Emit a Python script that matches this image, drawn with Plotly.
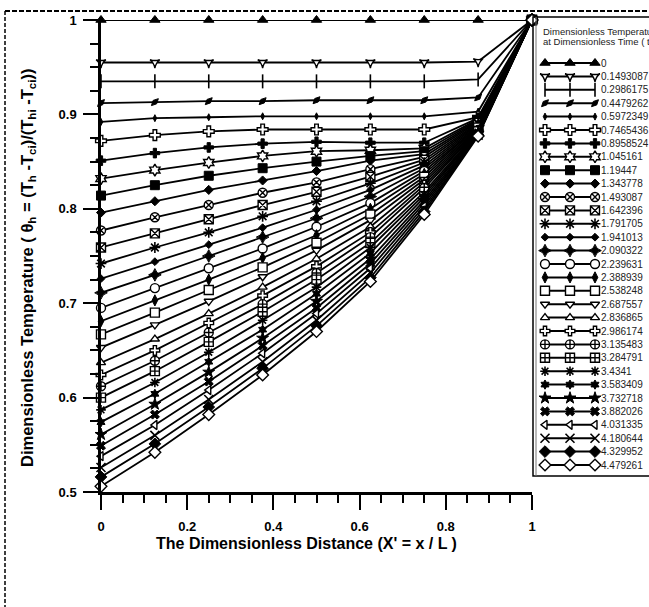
import plotly.graph_objects as go

# Node positions along the slab (X' = x / L)
x_nodes = [0.0, 0.125, 0.25, 0.375, 0.5, 0.625, 0.75, 0.875, 1.0]

# Dimensionless times of the profiles
time_labels = [
    "0", "0.1493087", "0.2986175", "0.4479262", "0.5972349", "0.7465436",
    "0.8958524", "1.045161", "1.19447", "1.343778", "1.493087", "1.642396",
    "1.791705", "1.941013", "2.090322", "2.239631", "2.388939", "2.538248",
    "2.687557", "2.836865", "2.986174", "3.135483", "3.284791", "3.4341",
    "3.583409", "3.732718", "3.882026", "4.031335", "4.180644", "4.329952",
    "4.479261",
]

# Dimensionless temperature at each node, one entry per time (same order as time_labels)
node_000 = [1.0, 0.955, 0.935, 0.912, 0.892, 0.872, 0.851, 0.832, 0.814, 0.796, 0.777,
            0.759, 0.742, 0.726, 0.711, 0.695, 0.681, 0.667, 0.653, 0.637, 0.624,
            0.612, 0.600, 0.587, 0.574, 0.561, 0.549, 0.538, 0.526, 0.516, 0.506]
node_125 = [1.0, 0.955, 0.935, 0.913, 0.896, 0.878, 0.859, 0.841, 0.825, 0.808, 0.791,
            0.774, 0.759, 0.744, 0.730, 0.716, 0.703, 0.690, 0.677, 0.662, 0.650,
            0.639, 0.628, 0.616, 0.604, 0.593, 0.582, 0.571, 0.560, 0.551, 0.542]
node_250 = [1.0, 0.955, 0.935, 0.914, 0.897, 0.882, 0.865, 0.849, 0.835, 0.820, 0.804,
            0.789, 0.775, 0.762, 0.750, 0.737, 0.725, 0.714, 0.702, 0.689, 0.679,
            0.669, 0.659, 0.648, 0.638, 0.627, 0.617, 0.608, 0.598, 0.590, 0.582]
node_375 = [1.0, 0.955, 0.935, 0.914, 0.898, 0.884, 0.869, 0.856, 0.843, 0.830, 0.817,
            0.804, 0.792, 0.780, 0.770, 0.758, 0.748, 0.738, 0.728, 0.717, 0.708,
            0.699, 0.691, 0.682, 0.672, 0.663, 0.655, 0.647, 0.638, 0.631, 0.624]
node_500 = [1.0, 0.955, 0.935, 0.915, 0.898, 0.884, 0.871, 0.861, 0.850, 0.840, 0.828,
            0.818, 0.808, 0.799, 0.790, 0.781, 0.772, 0.764, 0.756, 0.747, 0.739,
            0.732, 0.725, 0.717, 0.710, 0.702, 0.695, 0.689, 0.682, 0.676, 0.670]
node_625 = [1.0, 0.955, 0.935, 0.915, 0.898, 0.884, 0.870, 0.862, 0.856, 0.851, 0.842,
            0.834, 0.827, 0.820, 0.813, 0.806, 0.800, 0.794, 0.788, 0.781, 0.775,
            0.770, 0.764, 0.759, 0.753, 0.747, 0.742, 0.737, 0.732, 0.727, 0.723]
node_750 = [1.0, 0.955, 0.935, 0.915, 0.898, 0.884, 0.870, 0.864, 0.861, 0.858, 0.855,
            0.852, 0.849, 0.846, 0.843, 0.840, 0.837, 0.834, 0.831, 0.828, 0.825,
            0.822, 0.818, 0.815, 0.812, 0.809, 0.806, 0.803, 0.800, 0.797, 0.794]
node_875 = [1.0, 0.956, 0.937, 0.918, 0.903, 0.897, 0.896, 0.895, 0.894, 0.893, 0.892,
            0.891, 0.890, 0.889, 0.888, 0.887, 0.887, 0.886, 0.885, 0.884, 0.883,
            0.883, 0.882, 0.881, 0.881, 0.880, 0.879, 0.879, 0.878, 0.878, 0.877]
node_1000 = [1.0] * 31

node_columns = [node_000, node_125, node_250, node_375, node_500,
                node_625, node_750, node_875, node_1000]

# Marker style per profile: (symbol, fill, size)
marker_styles = [
    ("triangle-up", "k", 9), ("star-triangle-down", "w", 7), ("line-ns", "n", 10),
    ("diamond-wide", "k", 7), ("diamond-tall", "k", 5), ("cross", "w", 9),
    ("cross", "k", 8), ("hexagram", "w", 9), ("square", "k", 9),
    ("diamond", "k", 7), ("circle-x", "w", 9), ("square-x", "w", 9),
    ("asterisk", "n", 9), ("diamond", "k", 6), ("star-diamond", "k", 9),
    ("circle", "w", 9), ("diamond-tall", "k", 8), ("square", "w", 9),
    ("triangle-down", "w", 8), ("triangle-up", "w", 8), ("cross", "w", 8),
    ("circle-cross", "w", 9), ("square-cross", "w", 9), ("asterisk", "n", 8),
    ("hexagram", "k", 7), ("star", "k", 9), ("x", "k", 8),
    ("triangle-left", "w", 8), ("x-thin", "n", 9), ("diamond", "k", 9),
    ("diamond", "w", 9),
]

FONT = "Liberation Sans, Arial, sans-serif"
W, H = 649, 607
PLOT_L, PLOT_R, PLOT_T, PLOT_B = 101, 532, 20, 492
AREA_W = W - PLOT_L
AREA_H = PLOT_B - PLOT_T


def px_x(px):
    return (px - PLOT_L) / AREA_W


def px_y(py):
    return (PLOT_B - py) / AREA_H


def marker_dict(symbol, fill, size):
    if fill == "n":
        return dict(symbol=symbol + "-open", size=size, color="black",
                    line=dict(color="black", width=1.6))
    if fill == "w":
        return dict(symbol=symbol, size=size, color="white",
                    line=dict(color="black", width=1.4))
    m = dict(symbol=symbol, size=size, color="black",
             line=dict(color="black", width=1))
    if symbol == "diamond-wide":
        m["angle"] = -45
    return m


fig = go.Figure()

# Temperature profiles
for i, label in enumerate(time_labels):
    sym, fill, size = marker_styles[i]
    fig.add_trace(go.Scatter(
        x=x_nodes, y=[col[i] for col in node_columns],
        mode="lines+markers", name=label, showlegend=False,
        line=dict(color="black", width=1.8),
        marker=marker_dict(sym, fill, size), cliponaxis=False,
    ))

# Key: line sample with three markers per profile on an auxiliary axis pair
KEY_ROW0, KEY_STEP = 63, 13.4
KEY_X0, KEY_UNIT = 545, 50
for i, label in enumerate(time_labels):
    sym, fill, size = marker_styles[i]
    fig.add_trace(go.Scatter(
        x=[0, 0.5, 1], y=[i, i, i], xaxis="x2", yaxis="y2",
        mode="lines+markers", showlegend=False, hoverinfo="skip",
        line=dict(color="black", width=2),
        marker=marker_dict(sym, fill, size), cliponaxis=False,
    ))
    fig.add_annotation(x=1.08, y=i, xref="x2", yref="y2", text=label,
                       showarrow=False, xanchor="left", yanchor="middle",
                       font=dict(family=FONT, size=10, color="#222"))

for text, row in [("Dimensionless Temperature", -2.35),
                  ("at Dimensionless Time ( t / t<sub>o</sub> )", -1.55)]:
    fig.add_annotation(x=-0.08, y=row, xref="x2", yref="y2", text=text,
                       showarrow=False, xanchor="left", yanchor="middle",
                       font=dict(family=FONT, size=9.5, color="#222"))

# Key frame (double line on the left edge)
fig.add_shape(type="rect", xref="paper", yref="paper",
              x0=px_x(533), x1=px_x(700), y0=px_y(476), y1=px_y(17),
              line=dict(color="black", width=1.5), fillcolor="rgba(0,0,0,0)")
fig.add_shape(type="line", xref="paper", yref="paper",
              x0=px_x(536), x1=px_x(536), y0=px_y(476), y1=px_y(17),
              line=dict(color="#777", width=1))

# Dashed page frame
fig.add_shape(type="line", xref="paper", yref="paper",
              x0=px_x(5), x1=px_x(W + 5), y0=px_y(11), y1=px_y(11),
              line=dict(color="black", width=2, dash="5px,2px"))
fig.add_shape(type="line", xref="paper", yref="paper",
              x0=px_x(5), x1=px_x(5), y0=px_y(11), y1=px_y(H + 5),
              line=dict(color="black", width=1.5, dash="4px,2px"))

# Axis titles
fig.add_annotation(x=px_x(306), y=px_y(543), xref="paper", yref="paper",
                   xanchor="center", yanchor="middle",
                   text="The Dimensionless Distance (X' = x / L )", showarrow=False,
                   font=dict(family=FONT, size=16, color="black", weight="bold"))
fig.add_annotation(x=px_x(28), y=px_y(268), xref="paper", yref="paper", textangle=-90,
                   xanchor="center", yanchor="middle",
                   text="Dimensionless Temperature ( θ<sub>h</sub> = (T<sub>h</sub> -T<sub>ci</sub>)/(T<sub>hi</sub> -T<sub>ci</sub>))",
                   showarrow=False,
                   font=dict(family=FONT, size=16.5, color="black", weight="bold"))

axis_common = dict(showgrid=False, zeroline=False, showline=True, linecolor="black",
                   linewidth=2.5, ticks="outside", ticklen=15, tickwidth=2,
                   tickcolor="black",
                   tickfont=dict(family=FONT, size=13, color="black", weight="bold"))

fig.update_layout(
    width=W, height=H,
    margin=dict(l=PLOT_L, r=0, t=PLOT_T, b=H - PLOT_B, autoexpand=False),
    paper_bgcolor="white", plot_bgcolor="white",
    xaxis=dict(range=[0, 1], dtick=0.2, domain=[0, (PLOT_R - PLOT_L) / AREA_W],
               anchor="y", ticklabelstandoff=6,
               minor=dict(dtick=0.05, ticks="outside", ticklen=8, tickwidth=2,
                          tickcolor="black"),
               **axis_common),
    yaxis=dict(range=[0.5, 1], dtick=0.1, domain=[0, 1], anchor="x",
               ticklabelstandoff=4,
               minor=dict(dtick=0.025, ticks="outside", ticklen=8, tickwidth=2,
                          tickcolor="black"),
               **axis_common),
    xaxis2=dict(domain=[px_x(533), 1], anchor="y2", visible=False,
                range=[(533 - KEY_X0) / KEY_UNIT, (W - KEY_X0) / KEY_UNIT]),
    yaxis2=dict(domain=[0, 1], anchor="x2", visible=False,
                range=[(PLOT_B - KEY_ROW0) / KEY_STEP, (PLOT_T - KEY_ROW0) / KEY_STEP]),
    showlegend=False,
)

fig.write_html("out.html")
